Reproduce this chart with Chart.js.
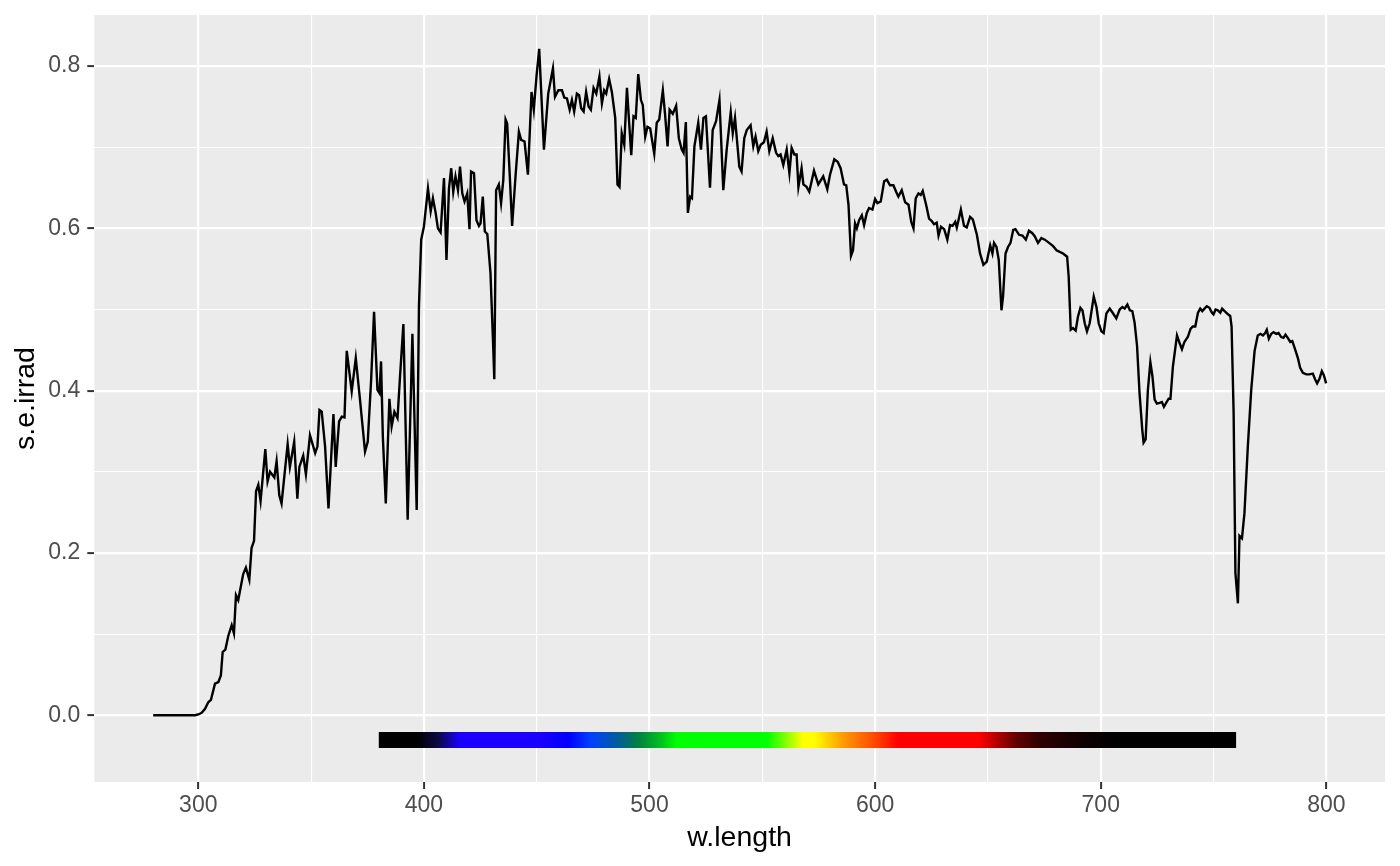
<!DOCTYPE html>
<html>
<head>
<meta charset="utf-8">
<script src="https://cdn.jsdelivr.net/npm/chart.js@4.4.1/dist/chart.umd.min.js"></script>
<style>
  html, body { margin: 0; padding: 0; background: #fff; }
  canvas { display: block; }
</style>
</head>
<body>
<canvas id="chart" width="1400" height="866"></canvas>
<script>
// spectrum (nm, W m-2 nm-1)
const wavelength = [
  280, 290, 298.5, 300, 301.5, 303, 304.4, 305.6, 307.4, 308.9, 310, 310.8, 312, 313.3, 314.8, 315.8,
  316.7, 317.7, 319.9, 321.1, 322.6, 323.6, 324.7, 325.6, 326.6, 327.6, 329.7, 330.7, 331.8, 333.7,
  334.7, 335.9, 336.9, 339.6, 340.6, 342.5, 343.9, 344.8, 346.5, 347.7, 349.5, 351.8, 352.8, 353.7,
  354.7, 356.2, 357.7, 359.9, 360.9, 362.4, 363.6, 364.8, 365.8, 368, 369.8, 371.7, 373.9, 375.1,
  376.6, 377.9, 379.4, 380.3, 381, 381.8, 383.1, 384.7, 385.7, 386.9, 388.3, 389.4, 390.9, 392.8,
  394.9, 396.8, 397.8, 398.8, 400, 401.8, 403, 404, 405.2, 406.2, 407.4, 408.9, 410, 411.1, 412.1,
  413, 414, 415.1, 416, 417, 418, 419.2, 420.2, 420.9, 422.2, 423.3, 424.4, 425.1, 426.1, 427, 428.1,
  429.5, 430.6, 431.2, 432, 433.2, 434.2, 435.2, 436.2, 436.9, 438, 439.1, 440.6, 442.1, 443.1, 444.6,
  446.1, 447.7, 448.7, 449.9, 451.1, 453.2, 455.1, 457.2, 458.1, 459.6, 461.2, 462.2, 463.4, 464.6,
  465.6, 466.6, 467.8, 468.8, 469.7, 470.8, 471.9, 473, 474, 475.2, 476.4, 477.8, 478.9, 479.9, 480.8,
  482.1, 483.3, 484.8, 485.8, 486.7, 487.7, 488.8, 490, 491, 491.9, 492.9, 493.9, 495, 496.2, 497,
  498.1, 499.1, 500.3, 502.1, 503.2, 504.3, 505.9, 506.9, 508, 508.9, 510.3, 511.8, 513, 514.3, 515.1,
  516.1, 517, 518, 518.8, 519.9, 521.6, 522.8, 523.9, 525, 526.8, 528, 529.5, 531, 532.7, 534.2, 536,
  536.9, 537.9, 539.8, 540.8, 542, 543.1, 544.8, 546, 547, 548.2, 549.3, 550.7, 551.9, 553.1, 554.6,
  556.1, 557.1, 558.1, 559.3, 560.8, 562, 563, 564.2, 565.2, 566, 567.4, 568.2, 569.6, 570.8, 572.9,
  574.8, 577, 578.8, 580, 581.9, 583.4, 584.7, 586.2, 587.2, 588.2, 589.3, 590.2, 591.1, 591.9, 592.9,
  594.1, 595.1, 596.3, 597.3, 598.8, 600, 601, 602.5, 604, 605.2, 606.6, 608.1, 609.3, 610.3, 611.8,
  613.3, 614.8, 616, 617, 618, 619.2, 620.2, 621.1, 622.6, 623.9, 625.1, 626.1, 627.3, 628.1, 629.2,
  630.6, 632, 633.2, 634.3, 635.5, 636.2, 638, 639.4, 640.6, 642.1, 643.3, 645.1, 646.5, 648, 649.5,
  651, 652, 652.7, 653.8, 654.8, 656, 656.7, 657.8, 658.9, 660, 661.2, 662.2, 663.8, 665.3, 666.8,
  668.2, 669.7, 670.8, 672.2, 673.7, 675.2, 677.1, 678.9, 680.4, 681.8, 683.3, 685.1, 685.8, 686.7,
  687.7, 688.9, 689.9, 691, 691.9, 692.9, 693.9, 695.1, 696.9, 698.1, 699.1, 700.3, 701.3, 702.5, 704,
  705.5, 706.9, 708.4, 709.6, 710.6, 711.8, 712.9, 714, 715, 716.1, 717.2, 718.4, 719, 719.9, 720.9,
  722, 722.9, 723.9, 724.9, 726.1, 727.1, 728, 729, 730.1, 730.9, 732, 733.8, 734.9, 736, 737.1, 738.6,
  739.8, 740.8, 741.9, 743.1, 744.1, 745, 746, 747, 748.2, 749.3, 750, 750.9, 751.9, 753, 753.8, 754.9,
  756.4, 757.4, 758, 758.9, 759.7, 760.8, 761.5, 762.6, 763.7, 765.2, 766.7, 768.2, 769.6, 770.8,
  771.9, 772.9, 773.6, 774.5, 775.6, 776.6, 777.8, 778.8, 780, 781, 781.9, 782.9, 784, 784.9, 785.9,
  787.4, 788.4, 789.6, 791.1, 792.5, 794, 795, 795.9, 797, 798, 798.9, 799.9
];
const seIrrad = [
  0, 0, 0, 0.001, 0.003, 0.008, 0.016, 0.019, 0.039, 0.041, 0.049, 0.078, 0.081, 0.098, 0.111, 0.101,
  0.148, 0.142, 0.174, 0.182, 0.167, 0.206, 0.215, 0.276, 0.284, 0.264, 0.328, 0.288, 0.300, 0.293,
  0.313, 0.271, 0.261, 0.334, 0.306, 0.337, 0.267, 0.306, 0.320, 0.297, 0.345, 0.323, 0.331, 0.376,
  0.374, 0.331, 0.255, 0.371, 0.306, 0.362, 0.368, 0.367, 0.449, 0.399, 0.440, 0.388, 0.325, 0.337,
  0.413, 0.497, 0.401, 0.397, 0.436, 0.343, 0.261, 0.390, 0.356, 0.374, 0.366, 0.417, 0.482, 0.241,
  0.470, 0.253, 0.504, 0.586, 0.602, 0.649, 0.621, 0.637, 0.619, 0.600, 0.595, 0.662, 0.561, 0.649, 0.674,
  0.645, 0.664, 0.647, 0.676, 0.643, 0.633, 0.643, 0.599, 0.670, 0.668, 0.610, 0.603, 0.606, 0.639, 0.596, 0.593,
  0.545, 0.463, 0.414, 0.647, 0.654, 0.631, 0.660, 0.734, 0.729, 0.668, 0.603, 0.664, 0.719, 0.709, 0.707,
  0.666, 0.768, 0.746, 0.787, 0.821, 0.697, 0.766, 0.797, 0.762, 0.770, 0.770, 0.761, 0.760, 0.746,
  0.758, 0.744, 0.766, 0.764, 0.748, 0.744, 0.768, 0.750, 0.746, 0.773, 0.766, 0.787, 0.754, 0.770, 0.766,
  0.784, 0.768, 0.736, 0.654, 0.651, 0.717, 0.703, 0.773, 0.729, 0.690, 0.738, 0.736, 0.790, 0.758, 0.752,
  0.713, 0.725, 0.723, 0.692, 0.730, 0.734, 0.770, 0.740, 0.701, 0.746, 0.741, 0.751, 0.711, 0.697, 0.693,
  0.731, 0.619, 0.639, 0.637, 0.701, 0.730, 0.697, 0.736, 0.738, 0.650, 0.721, 0.732, 0.758, 0.647, 0.697, 0.743,
  0.717, 0.736, 0.676, 0.670, 0.711, 0.721, 0.727, 0.701, 0.713, 0.695, 0.703, 0.706, 0.719, 0.695, 0.711,
  0.693, 0.689, 0.691, 0.678, 0.697, 0.668, 0.699, 0.691, 0.691, 0.651, 0.674, 0.654, 0.651, 0.645, 0.671,
  0.654, 0.664, 0.648, 0.666, 0.685, 0.682, 0.674, 0.654, 0.653, 0.629, 0.566, 0.573, 0.606, 0.600, 0.610,
  0.616, 0.604, 0.619, 0.625, 0.623, 0.636, 0.631, 0.633, 0.658, 0.660, 0.653, 0.653, 0.645, 0.639, 0.647,
  0.632, 0.629, 0.608, 0.600, 0.637, 0.643, 0.641, 0.646, 0.629, 0.612, 0.609, 0.605, 0.607, 0.591, 0.602,
  0.599, 0.586, 0.604, 0.603, 0.608, 0.601, 0.623, 0.603, 0.601, 0.614, 0.611, 0.592, 0.569, 0.555, 0.559,
  0.579, 0.569, 0.582, 0.577, 0.561, 0.499, 0.516, 0.569, 0.577, 0.582, 0.598, 0.599, 0.592, 0.591, 0.586,
  0.597, 0.594, 0.590, 0.582, 0.588, 0.586, 0.582, 0.578, 0.573, 0.571, 0.569, 0.565, 0.540, 0.475,
  0.477, 0.474, 0.491, 0.502, 0.499, 0.483, 0.473, 0.483, 0.516, 0.503, 0.483, 0.473, 0.471, 0.495, 0.501,
  0.495, 0.489, 0.500, 0.503, 0.501, 0.506, 0.499, 0.498, 0.484, 0.455, 0.397, 0.352, 0.336, 0.340, 0.401,
  0.435, 0.418, 0.389, 0.384, 0.385, 0.386, 0.380, 0.385, 0.390, 0.390, 0.430, 0.468, 0.459, 0.451, 0.460, 0.466,
  0.476, 0.479, 0.479, 0.496, 0.501, 0.498, 0.501, 0.504, 0.502, 0.496, 0.494, 0.500, 0.499, 0.496, 0.501, 0.498,
  0.494, 0.492, 0.479, 0.373, 0.175, 0.138, 0.221, 0.218, 0.249, 0.331, 0.401, 0.449, 0.468, 0.470,
  0.468, 0.471, 0.475, 0.464, 0.470, 0.472, 0.470, 0.471, 0.466, 0.465, 0.469, 0.465, 0.460, 0.461, 0.453,
  0.440, 0.428, 0.422, 0.420, 0.420, 0.421, 0.414, 0.409, 0.415, 0.424, 0.419, 0.409
];

// visible colour bar (wavelength stops and their colours)
const barRange = [380, 760];
const barLevel = -0.0304;
const barStopWl = [380, 397, 406, 416, 451, 464, 474, 487, 495, 505, 512, 552, 568, 573, 585, 601, 610, 646, 656, 663, 673, 692, 707, 760];
const barStopColor = ['#000000', '#000000', '#0d0840', '#1a00ff', '#1a00ff', '#0000ff', '#0040ff', '#006090', '#008040',
  '#00c020', '#00ff00', '#00ff00', '#ffff00', '#ffff00', '#ffa000', '#ff4000', '#ff0000', '#ff0000', '#a00000',
  '#600000', '#300000', '#100000', '#000000', '#000000'];

const xTicks = [300, 350, 400, 450, 500, 550, 600, 650, 700, 750, 800];
const yTicks = [0, 0.1, 0.2, 0.3, 0.4, 0.5, 0.6, 0.7, 0.8];

const isMajorX = v => v % 100 === 0;
const isMajorY = v => Math.round(v * 10) % 2 === 0;

const panelBg = {
  id: 'panelBg',
  beforeDraw(chart) {
    const { ctx, chartArea: a } = chart;
    ctx.save();
    ctx.fillStyle = '#ffffff';
    ctx.fillRect(0, 0, chart.width, chart.height);
    ctx.fillStyle = '#ebebeb';
    ctx.fillRect(a.left, a.top, a.right - a.left, a.bottom - a.top);
    ctx.restore();
  }
};

function barGradient(context) {
  const chart = context.chart;
  if (!chart.chartArea) return '#000';
  const x = chart.scales.x;
  const x0 = x.getPixelForValue(barRange[0]);
  const x1 = x.getPixelForValue(barRange[1]);
  const g = chart.ctx.createLinearGradient(x0, 0, x1, 0);
  barStopWl.forEach((w, i) => {
    g.addColorStop((w - barRange[0]) / (barRange[1] - barRange[0]), barStopColor[i]);
  });
  return g;
}

const tickFont = { family: '"Liberation Sans", Arial, sans-serif', size: 23 };
const titleFont = { family: '"Liberation Sans", Arial, sans-serif', size: 28.5 };

new Chart(document.getElementById('chart'), {
  type: 'scatter',
  data: {
    datasets: [
      {
        data: wavelength.map((w, i) => ({ x: w, y: seIrrad[i] })),
        showLine: true,
        borderColor: '#000000',
        borderWidth: 2.4,
        pointRadius: 0,
        tension: 0
      },
      {
        data: barRange.map(w => ({ x: w, y: barLevel })),
        showLine: true,
        borderColor: barGradient,
        borderWidth: 16,
        borderCapStyle: 'butt',
        pointRadius: 0
      }
    ]
  },
  options: {
    responsive: false,
    animation: false,
    devicePixelRatio: 1,
    layout: { padding: { top: 15, right: 15, left: 0, bottom: 0 } },
    plugins: { legend: { display: false }, tooltip: { enabled: false } },
    scales: {
      x: {
        type: 'linear',
        min: 253.9,
        max: 826,
        afterBuildTicks: axis => { axis.ticks = xTicks.map(v => ({ value: v })); },
        afterFit: axis => {
          axis.height = 84;
          axis.paddingLeft = 0;
          axis.paddingRight = 0;
        },
        border: { display: false },
        grid: {
          color: '#ffffff',
          lineWidth: c => isMajorX(c.tick.value) ? 2.2 : 1.1,
          tickColor: c => isMajorX(c.tick.value) ? '#333333' : 'rgba(0,0,0,0)',
          tickWidth: 2,
          tickLength: 7
        },
        ticks: {
          autoSkip: false,
          maxRotation: 0,
          padding: 3,
          color: '#4d4d4d',
          font: tickFont,
          callback: v => isMajorX(v) ? String(v) : ''
        },
        title: {
          display: true,
          text: 'w.length',
          color: '#000000',
          font: titleFont,
          padding: { top: 0, bottom: 11 }
        }
      },
      y: {
        min: -0.0822,
        max: 0.8628,
        afterBuildTicks: axis => { axis.ticks = yTicks.map(v => ({ value: v })); },
        afterFit: axis => {
          axis.width = 94.3;
          axis.paddingTop = 0;
          axis.paddingBottom = 0;
        },
        border: { display: false },
        grid: {
          color: '#ffffff',
          lineWidth: c => isMajorY(c.tick.value) ? 2.2 : 1.1,
          tickColor: c => isMajorY(c.tick.value) ? '#333333' : 'rgba(0,0,0,0)',
          tickWidth: 2,
          tickLength: 7
        },
        ticks: {
          autoSkip: false,
          padding: 7,
          color: '#4d4d4d',
          font: tickFont,
          callback: v => isMajorY(v) ? v.toFixed(1) : ''
        },
        title: {
          display: true,
          text: 's.e.irrad',
          color: '#000000',
          font: titleFont,
          padding: { top: 9, bottom: 0 }
        }
      }
    }
  },
  plugins: [panelBg]
});
</script>
</body>
</html>
